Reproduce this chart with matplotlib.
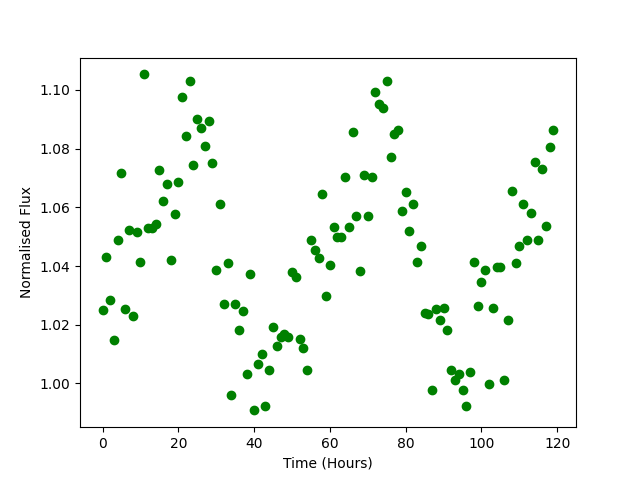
import matplotlib
matplotlib.use('Agg')
import matplotlib.pyplot as plt
import numpy as np

# hourly flux readings
hours = np.arange(120)
flux = [1.0249, 1.0432, 1.0283, 1.0147, 1.0487, 1.0716, 1.0255, 1.0522, 1.0231, 1.0516,
        1.0413, 1.1053, 1.0528, 1.0528, 1.0542, 1.0727, 1.0620, 1.0680, 1.0420, 1.0576,
        1.0688, 1.0975, 1.0842, 1.1030, 1.0743, 1.0900, 1.0869, 1.0808, 1.0893, 1.0750,
        1.0385, 1.0613, 1.0272, 1.0410, 0.9961, 1.0272, 1.0181, 1.0246, 1.0033, 1.0372,
        0.9908, 1.0067, 1.0101, 0.9924, 1.0047, 1.0192, 1.0129, 1.0158, 1.0167, 1.0158,
        1.0379, 1.0363, 1.0150, 1.0122, 1.0047, 1.0489, 1.0456, 1.0428, 1.0647, 1.0299,
        1.0405, 1.0532, 1.0500, 1.0500, 1.0705, 1.0532, 1.0856, 1.0569, 1.0382, 1.0709,
        1.0569, 1.0705, 1.0992, 1.0952, 1.0940, 1.1030, 1.0770, 1.0850, 1.0862, 1.0589,
        1.0651, 1.0521, 1.0613, 1.0415, 1.0468, 1.0241, 1.0238, 0.9976, 1.0254, 1.0217,
        1.0256, 1.0181, 1.0044, 1.0013, 1.0031, 0.9976, 0.9922, 1.0040, 1.0415, 1.0265,
        1.0345, 1.0388, 0.9997, 1.0258, 1.0397, 1.0396, 1.0013, 1.0215, 1.0654, 1.0410,
        1.0468, 1.0613, 1.0490, 1.0579, 1.0754, 1.0490, 1.0729, 1.0536, 1.0804, 1.0863]

plt.rcParams['figure.figsize'] = [6.4, 4.8]
plt.plot(hours, flux, 'o', color='green')
plt.xlabel("Time (Hours)")
plt.ylabel("Normalised Flux")
plt.savefig('out.png', dpi=100)
